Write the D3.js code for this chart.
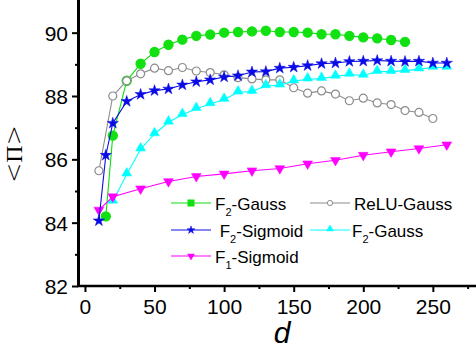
<!DOCTYPE html>
<html>
<head>
<meta charset="utf-8">
<script src="https://cdn.jsdelivr.net/npm/d3@7"></script>
<style>
  body { margin: 0; background: #fff; }
  text { font-family: "Liberation Sans", Arial, sans-serif; }
</style>
</head>
<body>
<script>
// data
var xGreen = [15, 20, 30, 40, 50, 60, 70, 80, 90, 100, 110, 120, 130, 140, 150, 160, 170, 180, 190, 200, 210, 220, 230];
var yGreen = [84.2, 86.75, 88.48, 89.02, 89.39, 89.62, 89.78, 89.9, 89.94, 90.0, 90.02, 90.04, 90.06, 90.02, 90.02, 90.0, 89.95, 89.95, 89.9, 89.85, 89.82, 89.77, 89.71];

var xBlue = [10, 15, 20, 30, 40, 50, 60, 70, 80, 90, 100, 110, 120, 130, 140, 150, 160, 170, 180, 190, 200, 210, 220, 230, 240, 250, 260];
var yBlue = [84.06, 86.13, 87.14, 87.83, 88.05, 88.17, 88.22, 88.35, 88.45, 88.51, 88.6, 88.64, 88.76, 88.77, 88.88, 88.91, 88.96, 89.02, 89.04, 89.09, 89.1, 89.12, 89.1, 89.09, 89.1, 89.04, 89.04];

var xGray = [10, 20, 30, 40, 50, 60, 70, 80, 90, 100, 110, 120, 130, 140, 150, 160, 170, 180, 190, 200, 210, 220, 230, 240, 250];
var yGray = [85.64, 88.0, 88.48, 88.7, 88.88, 88.8, 88.9, 88.79, 88.74, 88.67, 88.58, 88.54, 88.51, 88.51, 88.26, 88.09, 88.16, 88.06, 87.85, 87.93, 87.78, 87.73, 87.54, 87.48, 87.29];

var xCyan = [20, 30, 40, 50, 60, 70, 80, 90, 100, 110, 120, 130, 140, 150, 160, 170, 180, 190, 200, 210, 220, 230, 240, 250, 260];
var yCyan = [84.67, 85.53, 86.32, 86.8, 87.17, 87.41, 87.6, 87.75, 87.89, 88.12, 88.14, 88.32, 88.34, 88.47, 88.53, 88.55, 88.62, 88.68, 88.65, 88.77, 88.77, 88.8, 88.85, 88.9, 88.9];

var xMag = [10, 20, 40, 60, 80, 100, 120, 140, 160, 180, 200, 220, 240, 260];
var yMag = [84.4, 84.82, 85.07, 85.3, 85.46, 85.54, 85.64, 85.71, 85.86, 85.97, 86.13, 86.24, 86.34, 86.46];

var xTicks = [0, 50, 100, 150, 200, 250];
var yTicks = [82, 84, 86, 88, 90];

var w = 476, h = 348;
var svg = d3.select("body").append("svg").attr("width", w).attr("height", h);

var x = d3.scaleLinear().domain([-5, 281]).range([78, 476]);
var y = d3.scaleLinear().domain([82, 91]).range([286, 1]);

var series = [
  {xs: xGreen, ys: yGreen, color: "#11e011", shape: "circle", fill: true},
  {xs: xGray, ys: yGray, color: "#8c8c8c", shape: "circle", fill: false},
  {xs: xCyan, ys: yCyan, color: "#00ffff", shape: "up", fill: true},
  {xs: xMag, ys: yMag, color: "#ff00ff", shape: "down", fill: true},
  {xs: xBlue, ys: yBlue, color: "#0a0ae6", shape: "star", fill: true}
];

function marker(g, shape, color, fill, size) {
  if (shape == "circle") {
    g.append("circle").attr("r", fill ? size * 0.46 : size * 0.4)
      .attr("fill", fill ? color : "#fff").attr("stroke", color).attr("stroke-width", 1.2);
  } else {
    var t = shape == "star" ? d3.symbolStar : d3.symbolTriangle;
    var area = shape == "star" ? size * size * 0.4 : size * size * 0.42;
    g.append("path").attr("d", d3.symbol().type(t).size(area)())
      .attr("transform", shape == "down" ? "rotate(180)" : (shape == "up" ? "translate(0,-1)" : null))
      .attr("fill", color).attr("stroke", color).attr("stroke-width", 0.5);
  }
}

var line = d3.line().x(function(d) { return x(d[0]); }).y(function(d) { return y(d[1]); });

series.forEach(function(s) {
  var pts = s.xs.map(function(v, i) { return [v, s.ys[i]]; });
  svg.append("path").datum(pts).attr("d", line)
    .attr("fill", "none").attr("stroke", s.color).attr("stroke-width", 1.1);
  svg.selectAll(null).data(pts).enter().append("g")
    .attr("transform", function(d) { return "translate(" + x(d[0]) + "," + y(d[1]) + ")"; })
    .each(function() { marker(d3.select(this), s.shape, s.color, s.fill, 10); });
});

// axes
var xAxis = svg.append("g").attr("transform", "translate(0,286)")
  .call(d3.axisBottom(x).tickValues(xTicks).tickSize(6).tickPadding(3).tickFormat(d3.format("d")));
var xMinor = svg.append("g").attr("transform", "translate(0,286)")
  .call(d3.axisBottom(x).tickValues([25, 75, 125, 175, 225, 275]).tickSize(3).tickFormat(""));
var yAxis = svg.append("g").attr("transform", "translate(78,0)")
  .call(d3.axisLeft(y).tickValues(yTicks).tickSize(6).tickPadding(4).tickFormat(d3.format("d")));
var yMinor = svg.append("g").attr("transform", "translate(78,0)")
  .call(d3.axisLeft(y).tickValues([83, 85, 87, 89]).tickSize(3).tickFormat(""));

[xAxis, xMinor, yAxis, yMinor].forEach(function(a) {
  a.select(".domain").remove();
  a.selectAll(".tick line").attr("stroke", "#000").attr("stroke-width", 2);
  a.selectAll(".tick text").attr("fill", "#000").style("font-size", "21px")
    .style("font-family", "'Liberation Sans', Arial, sans-serif");
});
svg.append("line").attr("x1", 77).attr("x2", 476).attr("y1", 286).attr("y2", 286)
  .attr("stroke", "#000").attr("stroke-width", 2.6);
svg.append("line").attr("x1", 78.5).attr("x2", 78.5).attr("y1", 0).attr("y2", 287)
  .attr("stroke", "#000").attr("stroke-width", 3);
xAxis.selectAll(".tick text").attr("dy", "0.9em");
yAxis.selectAll(".tick text").attr("dy", "0.36em");

// axis titles
svg.append("text").attr("x", 282).attr("y", 343).attr("text-anchor", "middle")
  .style("font-size", "30px").style("font-style", "italic").text("d");
var yl = svg.append("text").attr("transform", "translate(22,154) rotate(-90)")
  .attr("text-anchor", "middle").style("font-size", "24px");
yl.append("tspan").style("font-family", "'DejaVu Sans', sans-serif").style("font-weight", "200").text("<");
yl.append("tspan").style("font-family", "'Liberation Serif', serif").text("Π");
yl.append("tspan").style("font-family", "'DejaVu Sans', sans-serif").style("font-weight", "200").text(">");

// legend
var legend = [
  {name: "F", sub: "2", rest: "-Gauss", color: "#11e011", shape: "square", lx: 171, ty: 203, tx: 215},
  {name: " F", sub: "2", rest: "-Sigmoid", color: "#0a0ae6", shape: "star", lx: 171, ty: 230, tx: 215},
  {name: "F", sub: "1", rest: "-Sigmoid", color: "#ff00ff", shape: "down", lx: 171, ty: 256, tx: 215},
  {name: "ReLU-Gauss", sub: "", rest: "", color: "#8c8c8c", shape: "circle", lx: 310, ty: 203, tx: 354},
  {name: "F", sub: "2", rest: "-Gauss", color: "#00ffff", shape: "up", lx: 310, ty: 230, tx: 352}
];
legend.forEach(function(l) {
  svg.append("line").attr("x1", l.lx).attr("x2", l.lx + 40).attr("y1", l.ty).attr("y2", l.ty)
    .attr("stroke", l.color).attr("stroke-width", 1.1);
  var g = svg.append("g").attr("transform", "translate(" + (l.lx + 20) + "," + l.ty + ")");
  if (l.shape == "square") {
    g.append("rect").attr("x", -3.5).attr("y", -3.5).attr("width", 7).attr("height", 7).attr("fill", l.color);
  } else if (l.shape == "circle") {
    g.append("circle").attr("r", 2.6).attr("fill", "#fff").attr("stroke", l.color).attr("stroke-width", 1);
  } else {
    marker(g, l.shape, l.color, true, 7);
  }
  var t = svg.append("text").attr("x", l.tx).attr("y", l.ty + 7).style("font-size", "17px").attr("fill", "#000");
  t.append("tspan").style("white-space", "pre").text(l.name);
  if (l.sub) {
    t.append("tspan").attr("dy", 6).style("font-size", "11px").text(l.sub);
    t.append("tspan").attr("dy", -6).text(l.rest);
  }
});
</script>
</body>
</html>
